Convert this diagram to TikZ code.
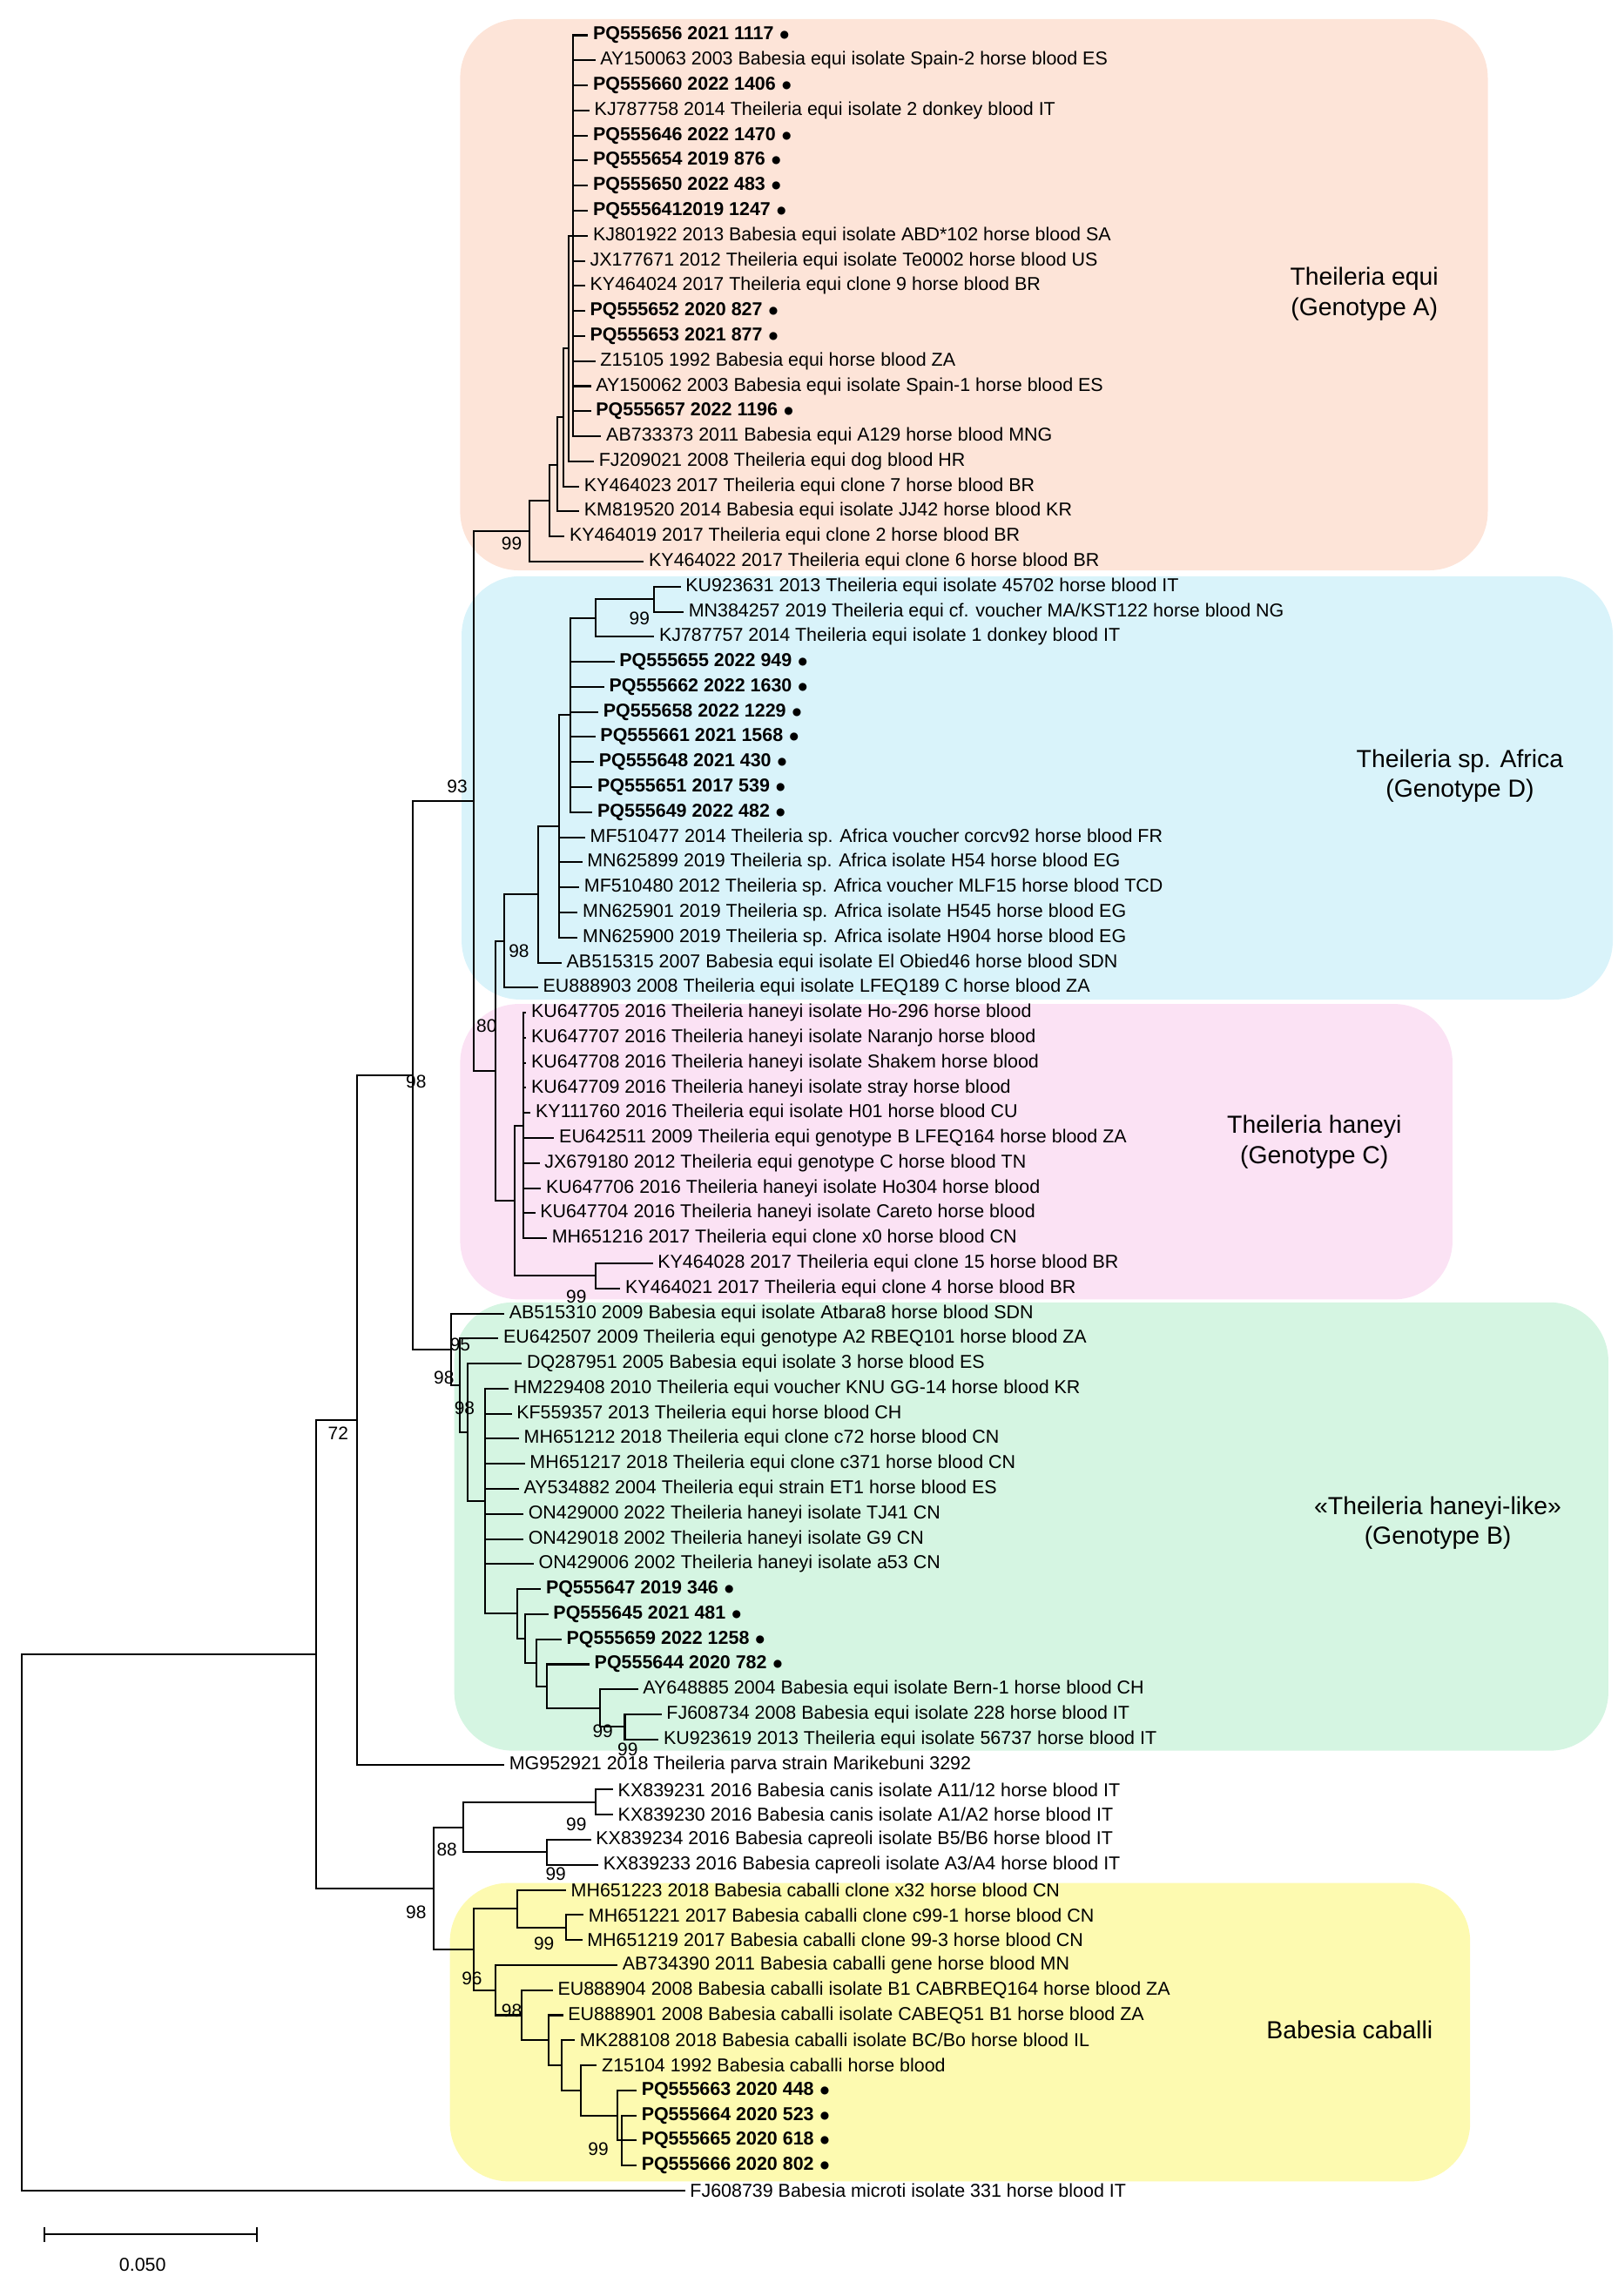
\documentclass[tikz,border=0pt]{standalone}
\usepackage{fontspec}
\setmainfont{Liberation Sans}
\begin{document}
\begin{tikzpicture}[x=0.5pt,y=-0.5pt,
  lab/.style={font=\fontsize{6.35}{7}\selectfont,inner sep=0pt},
  bs/.style={font=\fontsize{6.2}{7}\selectfont,inner sep=0pt},
  big/.style={font=\fontsize{8.4}{10.2}\selectfont,align=center,inner sep=0pt},
  br/.style={line width=0.6pt,black},
  box/.style={rounded corners=20pt,draw=none}]
\useasboundingbox (0,0) rectangle (1100,1562);
\fill[box,fill={rgb,255:red,253;green,228;blue,216}] (313,13) rectangle (1012,388);
\fill[box,fill={rgb,255:red,217;green,243;blue,250}] (314,392) rectangle (1097,680);
\fill[box,fill={rgb,255:red,251;green,226;blue,244}] (313,683) rectangle (988,884);
\fill[box,fill={rgb,255:red,213;green,245;blue,226}] (309,886) rectangle (1094,1191);
\fill[box,fill={rgb,255:red,253;green,250;blue,176}] (306,1281) rectangle (1000,1484);
\node[big] (gA) at (928,200) {Theileria equi\\(Genotype A)};
\node[big] (gD) at (993,528) {Theileria sp. Africa\\(Genotype D)};
\node[big] (gC) at (894,777) {Theileria haneyi\\(Genotype C)};
\node[big] (gB) at (978,1036) {«Theileria haneyi-like»\\(Genotype B)};
\node[big] (gE) at (918,1381) {Babesia caballi};
\begin{scope}[y=-8.525pt,yshift=-3.475pt]
\newcommand\lf[4]{\coordinate (l#1) at (#2-3,#1);\node[lab,anchor=west] (t#1) at (#2,#1) {#4};\draw[br] (#3) |- (l#1);}
\newcommand\pq[1]{\textbf{#1} $\bullet$}
\coordinate (A5) at (390,9); \coordinate (A4) at (387,13.5); \coordinate (A3) at (383,16.25);
\coordinate (A2) at (379,18.13); \coordinate (A1) at (374,19.56); \coordinate (A0) at (360,20.78);
\coordinate (D5) at (445,23.5); \coordinate (D4) at (405,24.25); \coordinate (D3) at (388,28.13);
\coordinate (D2) at (380,32.56); \coordinate (D1) at (366,35.28); \coordinate (D0) at (343,37.14);
\coordinate (C2) at (405,50.5); \coordinate (C1) at (356,44.5); \coordinate (C0) at (350,47.5);
\coordinate (DC) at (337,42.32); \coordinate (ADC) at (322,31.55);
\coordinate (B9) at (425,68.5); \coordinate (B8) at (408,67.75); \coordinate (B7) at (372,66.88);
\coordinate (B6) at (365,65.94); \coordinate (B5) at (357,64.97); \coordinate (B4) at (352,63.98);
\coordinate (B3) at (330,59.49); \coordinate (B2) at (318,56.75); \coordinate (B1) at (313,54.87);
\coordinate (B0) at (307,53.44);
\coordinate (T1) at (281,42.5); \coordinate (T0) at (243,56.25);
\coordinate (K2) at (405,71.5); \coordinate (K3) at (372,73.5); \coordinate (K1) at (315,72.5);
\coordinate (Cb1a) at (385,76.5); \coordinate (Cb1) at (352,75.75); \coordinate (Cb8) at (423,85);
\coordinate (Cb7) at (420,84); \coordinate (Cb6) at (395,83); \coordinate (Cb5) at (382,82);
\coordinate (Cb4) at (373,81); \coordinate (Cb3) at (355,80); \coordinate (Cb2) at (337,79);
\coordinate (Cb0) at (322,77.38);
\coordinate (Bb) at (295,74.94); \coordinate (U) at (215,65.6); \coordinate (Root) at (15,76.3);
\foreach \p/\c in {A0/A1,A1/A2,A2/A3,A3/A4,A4/A5,D0/D1,D1/D2,D2/D3,D3/D4,D4/D5,C0/C1,C0/C2,DC/D0,DC/C0,ADC/A0,ADC/DC,
 B0/B1,B1/B2,B2/B3,B3/B4,B4/B5,B5/B6,B6/B7,B7/B8,B8/B9,T1/ADC,T1/B0,T0/T1,K1/K2,K1/K3,Cb0/Cb1,Cb1/Cb1a,Cb0/Cb2,
 Cb2/Cb3,Cb3/Cb4,Cb4/Cb5,Cb5/Cb6,Cb6/Cb7,Cb7/Cb8,Bb/K1,Bb/Cb0,U/T0,U/Bb,Root/U}
 {\draw[br] (\p) |- (\c);}
\lf{1}{403}{A5}{\pq{PQ555656 2021 1117}}
\lf{2}{408}{A5}{AY150063 2003 Babesia equi isolate Spain-2 horse blood ES}
\lf{3}{403}{A5}{\pq{PQ555660 2022 1406}}
\lf{4}{404}{A5}{KJ787758 2014 Theileria equi isolate 2 donkey blood IT}
\lf{5}{403}{A5}{\pq{PQ555646 2022 1470}}
\lf{6}{403}{A5}{\pq{PQ555654 2019 876}}
\lf{7}{403}{A5}{\pq{PQ555650 2022 483}}
\lf{8}{403}{A5}{\pq{PQ5556412019 1247}}
\lf{9}{403}{A5}{KJ801922 2013 Babesia equi isolate ABD*102 horse blood SA}
\lf{10}{401}{A5}{JX177671 2012 Theileria equi isolate Te0002 horse blood US}
\lf{11}{401}{A5}{KY464024 2017 Theileria equi clone 9 horse blood BR}
\lf{12}{401}{A5}{\pq{PQ555652 2020 827}}
\lf{13}{401}{A5}{\pq{PQ555653 2021 877}}
\lf{14}{408}{A5}{Z15105 1992 Babesia equi horse blood ZA}
\lf{15}{405}{A5}{AY150062 2003 Babesia equi isolate Spain-1 horse blood ES}
\lf{16}{405}{A5}{\pq{PQ555657 2022 1196}}
\lf{17}{412}{A5}{AB733373 2011 Babesia equi A129 horse blood MNG}
\lf{18}{407}{A4}{FJ209021 2008 Theileria equi dog blood HR}
\lf{19}{397}{A3}{KY464023 2017 Theileria equi clone 7 horse blood BR}
\lf{20}{397}{A2}{KM819520 2014 Babesia equi isolate JJ42 horse blood KR}
\lf{21}{387}{A1}{KY464019 2017 Theileria equi clone 2 horse blood BR}
\lf{22}{441}{A0}{KY464022 2017 Theileria equi clone 6 horse blood BR}
\lf{23}{466}{D5}{KU923631 2013 Theileria equi isolate 45702 horse blood IT}
\lf{24}{468}{D5}{MN384257 2019 Theileria equi cf. voucher MA/KST122 horse blood NG}
\lf{25}{448}{D4}{KJ787757 2014 Theileria equi isolate 1 donkey blood IT}
\lf{26}{421}{D3}{\pq{PQ555655 2022 949}}
\lf{27}{414}{D3}{\pq{PQ555662 2022 1630}}
\lf{28}{410}{D3}{\pq{PQ555658 2022 1229}}
\lf{29}{408}{D3}{\pq{PQ555661 2021 1568}}
\lf{30}{407}{D3}{\pq{PQ555648 2021 430}}
\lf{31}{406}{D3}{\pq{PQ555651 2017 539}}
\lf{32}{406}{D3}{\pq{PQ555649 2022 482}}
\lf{33}{401}{D2}{MF510477 2014 Theileria sp. Africa voucher corcv92 horse blood FR}
\lf{34}{399}{D2}{MN625899 2019 Theileria sp. Africa isolate H54 horse blood EG}
\lf{35}{397}{D2}{MF510480 2012 Theileria sp. Africa voucher MLF15 horse blood TCD}
\lf{36}{396}{D2}{MN625901 2019 Theileria sp. Africa isolate H545 horse blood EG}
\lf{37}{396}{D2}{MN625900 2019 Theileria sp. Africa isolate H904 horse blood EG}
\lf{38}{385}{D1}{AB515315 2007 Babesia equi isolate El Obied46 horse blood SDN}
\lf{39}{369}{D0}{EU888903 2008 Theileria equi isolate LFEQ189 C horse blood ZA}
\lf{40}{361}{C1}{KU647705 2016 Theileria haneyi isolate Ho-296 horse blood}
\lf{41}{361}{C1}{KU647707 2016 Theileria haneyi isolate Naranjo horse blood}
\lf{42}{361}{C1}{KU647708 2016 Theileria haneyi isolate Shakem horse blood}
\lf{43}{361}{C1}{KU647709 2016 Theileria haneyi isolate stray horse blood}
\lf{44}{364}{C1}{KY111760 2016 Theileria equi isolate H01 horse blood CU}
\lf{45}{380}{C1}{EU642511 2009 Theileria equi genotype B LFEQ164 horse blood ZA}
\lf{46}{370}{C1}{JX679180 2012 Theileria equi genotype C horse blood TN}
\lf{47}{371}{C1}{KU647706 2016 Theileria haneyi isolate Ho304 horse blood}
\lf{48}{367}{C1}{KU647704 2016 Theileria haneyi isolate Careto horse blood}
\lf{49}{375}{C1}{MH651216 2017 Theileria equi clone x0 horse blood CN}
\lf{50}{447}{C2}{KY464028 2017 Theileria equi clone 15 horse blood BR}
\lf{51}{425}{C2}{KY464021 2017 Theileria equi clone 4 horse blood BR}
\lf{52}{346}{B0}{AB515310 2009 Babesia equi isolate Atbara8 horse blood SDN}
\lf{53}{342}{B1}{EU642507 2009 Theileria equi genotype A2 RBEQ101 horse blood ZA}
\lf{54}{358}{B2}{DQ287951 2005 Babesia equi isolate 3 horse blood ES}
\lf{55}{349}{B3}{HM229408 2010 Theileria equi voucher KNU GG-14 horse blood KR}
\lf{56}{351}{B3}{KF559357 2013 Theileria equi horse blood CH}
\lf{57}{356}{B3}{MH651212 2018 Theileria equi clone c72 horse blood CN}
\lf{58}{360}{B3}{MH651217 2018 Theileria equi clone c371 horse blood CN}
\lf{59}{356}{B3}{AY534882 2004 Theileria equi strain ET1 horse blood ES}
\lf{60}{359}{B3}{ON429000 2022 Theileria haneyi isolate TJ41 CN}
\lf{61}{359}{B3}{ON429018 2002 Theileria haneyi isolate G9 CN}
\lf{62}{366}{B3}{ON429006 2002 Theileria haneyi isolate a53 CN}
\lf{63}{371}{B4}{\pq{PQ555647 2019 346}}
\lf{64}{376}{B5}{\pq{PQ555645 2021 481}}
\lf{65}{385}{B6}{\pq{PQ555659 2022 1258}}
\lf{66}{404}{B7}{\pq{PQ555644 2020 782}}
\lf{67}{437}{B8}{AY648885 2004 Babesia equi isolate Bern-1 horse blood CH}
\lf{68}{453}{B9}{FJ608734 2008 Babesia equi isolate 228 horse blood IT}
\lf{69}{451}{B9}{KU923619 2013 Theileria equi isolate 56737 horse blood IT}
\lf{70}{346}{T0}{MG952921 2018 Theileria parva strain Marikebuni 3292}
\lf{71}{420}{K2}{KX839231 2016 Babesia canis isolate A11/12 horse blood IT}
\lf{72}{420}{K2}{KX839230 2016 Babesia canis isolate A1/A2 horse blood IT}
\lf{73}{405}{K3}{KX839234 2016 Babesia capreoli isolate B5/B6 horse blood IT}
\lf{74}{410}{K3}{KX839233 2016 Babesia capreoli isolate A3/A4 horse blood IT}
\lf{75}{388}{Cb1}{MH651223 2018 Babesia caballi clone x32 horse blood CN}
\lf{76}{400}{Cb1a}{MH651221 2017 Babesia caballi clone c99-1 horse blood CN}
\lf{77}{399}{Cb1a}{MH651219 2017 Babesia caballi clone 99-3 horse blood CN}
\lf{78}{423}{Cb2}{AB734390 2011 Babesia caballi gene horse blood MN}
\lf{79}{379}{Cb3}{EU888904 2008 Babesia caballi isolate B1 CABRBEQ164 horse blood ZA}
\lf{80}{386}{Cb4}{EU888901 2008 Babesia caballi isolate CABEQ51 B1 horse blood ZA}
\lf{81}{394}{Cb5}{MK288108 2018 Babesia caballi isolate BC/Bo horse blood IL}
\lf{82}{409}{Cb6}{Z15104 1992 Babesia caballi horse blood}
\lf{83}{436}{Cb7}{\pq{PQ555663 2020 448}}
\lf{84}{436}{Cb8}{\pq{PQ555664 2020 523}}
\lf{85}{436}{Cb8}{\pq{PQ555665 2020 618}}
\lf{86}{436}{Cb8}{\pq{PQ555666 2020 802}}
\lf{87}{469}{Root}{FJ608739 Babesia microti isolate 331 horse blood IT}
\end{scope}
\foreach \x/\y/\t [count=\i] in {348/370/99,435/421/99,353/647/98,331/698/80,311/535/93,283/736/98,392/882/99,
 313/915/95,302/937/98,316/958/98,230/975/72,410/1178/99,427/1190/99,392/1241/99,304/1258/88,378/1275/99,
 283/1301/98,370/1322/99,321/1346/96,348/1368/98,407/1462/99}
 {\node[bs] (bs\i) at (\x,\y) {\t};}
\coordinate (s1) at (30,1520); \coordinate (s2) at (175,1520);
\draw[br] (s1) -- (s2);
\draw[br] (30,1515) -- (30,1525) (175,1515) -- (175,1525);
\node[lab] (scl) at (97,1541) {0.050};
\end{tikzpicture}
\end{document}
